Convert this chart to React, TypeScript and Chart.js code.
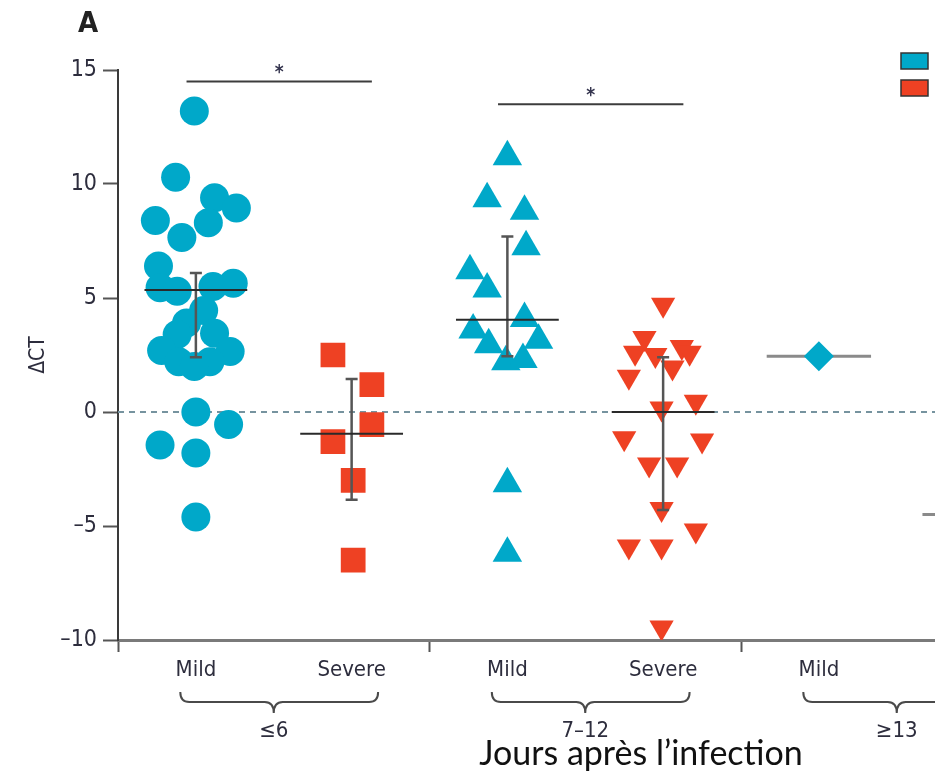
import React, { useEffect, useRef } from 'react';
import { Chart, registerables } from 'chart.js';

Chart.register(...registerables);

// ---------- data ----------
const CATEGORY_LABELS = ['Mild', 'Severe', 'Mild', 'Severe', 'Mild', 'Severe'];
const GROUP_LABELS = ['≤6', '7–12', '≥13'];
const LEGEND_LABELS = ['Mild', 'Severe'];
const Y_TICKS = [-10, -5, 0, 5, 10, 15];
const X_TITLE = 'Jours après l’infection';
const Y_TITLE = 'ΔCT';
const PANEL = 'A';

// [horizontal jitter within the category, ΔCT]
const MILD_LE6: [number, number][] = [
  [-0.01, 13.2], [-0.13, 10.3], [0.12, 9.4], [0.26, 8.95], [-0.26, 8.4], [0.08, 8.3],
  [-0.09, 7.65], [-0.24, 6.4], [-0.23, 5.45], [-0.12, 5.3], [0.11, 5.5], [0.24, 5.65],
  [0.05, 4.45], [-0.06, 3.9], [-0.12, 3.4], [0.12, 3.45], [-0.22, 2.7], [0.22, 2.65],
  [-0.11, 2.2], [0.09, 2.2], [-0.01, 2.0], [0, 0], [0.21, -0.55], [-0.23, -1.45],
  [0, -1.8], [0, -4.6],
];
const SEVERE_LE6: [number, number][] = [
  [-0.12, 2.5], [0.13, 1.2], [0.13, -0.55], [-0.12, -1.3], [0.01, -3.0], [0.01, -6.5],
];
const MILD_7_12: [number, number][] = [
  [0, 11.2], [-0.13, 9.35], [0.11, 8.8], [0.12, 7.25], [-0.24, 6.2], [-0.13, 5.4],
  [0.11, 4.1], [-0.22, 3.6], [-0.12, 2.95], [0.2, 3.15], [-0.01, 2.2], [0.1, 2.3],
  [0, -3.15], [0, -6.2],
];
const SEVERE_7_12: [number, number][] = [
  [0, 4.7], [-0.12, 3.25], [0.12, 2.85], [-0.18, 2.6], [-0.05, 2.5], [0.17, 2.6],
  [0.06, 1.95], [-0.22, 1.55], [0.21, 0.45], [-0.01, 0.15], [-0.25, -1.15], [0.25, -1.25],
  [-0.09, -2.3], [0.09, -2.3], [-0.01, -4.25], [0.21, -5.2], [-0.22, -5.9], [-0.01, -5.9],
  [-0.01, -9.45],
];
const MILD_GE13: [number, number][] = [[0, 2.45]];

const MEDIANS = [5.35, -0.95, 4.05, 0.0, 2.45, -4.5];
const Q1 = [2.4, -3.85, 2.45, -4.3, NaN, NaN];
const Q3 = [6.1, 1.45, 7.7, 2.4, NaN, NaN];
// [category a, category b, ΔCT level of the bar]
const SIGNIFICANCE: [number, number, number][] = [[0, 1, 14.5], [2, 3, 13.5]];

// ---------- style ----------
const BLUE = '#00a8c9';
const RED = '#ee4123';
const INK = '#2d2d3d';
const NARROW = "'Liberation Sans Narrow', 'DejaVu Sans Condensed', 'Liberation Sans', sans-serif";

const toPoints = (arr: [number, number][], cat: number) =>
  arr.map(([j, v]) => ({ x: cat + j, y: v }));

const overlay = {
  id: 'overlay',
  beforeDatasetsDraw(chart: any) {
    const { ctx } = chart;
    const x = chart.scales.x;
    const y = chart.scales.y;
    const unit = x.getPixelForValue(1) - x.getPixelForValue(0);
    ctx.save();
    MEDIANS.forEach((m, i) => {
      if (Number.isFinite(Q1[i])) return;
      const cx = x.getPixelForValue(i);
      const my = y.getPixelForValue(m);
      ctx.strokeStyle = '#8a8a8a';
      ctx.lineWidth = 3;
      ctx.beginPath();
      ctx.moveTo(cx - 0.335 * unit, my);
      ctx.lineTo(cx + 0.335 * unit, my);
      ctx.stroke();
    });
    ctx.restore();
  },
  afterDatasetsDraw(chart: any) {
    const { ctx } = chart;
    const x = chart.scales.x;
    const y = chart.scales.y;
    const unit = x.getPixelForValue(1) - x.getPixelForValue(0);
    ctx.save();
    MEDIANS.forEach((m, i) => {
      if (!Number.isFinite(Q1[i])) return;
      const cx = x.getPixelForValue(i);
      const y1 = y.getPixelForValue(Q1[i]);
      const y3 = y.getPixelForValue(Q3[i]);
      ctx.strokeStyle = '#555';
      ctx.lineWidth = 2.5;
      ctx.beginPath();
      ctx.moveTo(cx, y1);
      ctx.lineTo(cx, y3);
      ctx.moveTo(cx - 6, y1);
      ctx.lineTo(cx + 6, y1);
      ctx.moveTo(cx - 6, y3);
      ctx.lineTo(cx + 6, y3);
      ctx.stroke();
      const my = y.getPixelForValue(m);
      ctx.strokeStyle = '#2a2a2a';
      ctx.lineWidth = 2;
      ctx.beginPath();
      ctx.moveTo(cx - 0.33 * unit, my);
      ctx.lineTo(cx + 0.33 * unit, my);
      ctx.stroke();
    });
    ctx.restore();
  },
  afterDraw(chart: any) {
    const { ctx, chartArea } = chart;
    const x = chart.scales.x;
    const y = chart.scales.y;
    ctx.save();
    // panel letter
    ctx.fillStyle = '#222';
    ctx.font = `bold 29px ${NARROW}`;
    ctx.textAlign = 'left';
    ctx.textBaseline = 'alphabetic';
    ctx.fillText(PANEL, 78, 32);

    // significance bars
    SIGNIFICANCE.forEach(([a, b, lvl]) => {
      const x1 = x.getPixelForValue(a - 0.06);
      const x2 = x.getPixelForValue(b + 0.13);
      const py = y.getPixelForValue(lvl);
      ctx.strokeStyle = '#3c3c3c';
      ctx.lineWidth = 2;
      ctx.beginPath();
      ctx.moveTo(x1, py);
      ctx.lineTo(x2, py);
      ctx.stroke();
      ctx.fillStyle = '#34344e';
      ctx.font = `bold 19px ${NARROW}`;
      ctx.textAlign = 'center';
      ctx.textBaseline = 'alphabetic';
      ctx.fillText('*', (x1 + x2) / 2, py - 3);
    });

    // braces and group labels
    const top = chartArea.bottom + 52;
    const h = 21;
    GROUP_LABELS.forEach((g, gi) => {
      const a = gi * 2;
      const x1 = x.getPixelForValue(a - 0.1);
      const x2 = x.getPixelForValue(a + 1.17);
      const xm = x.getPixelForValue(a + 0.5);
      const mid = top + 10;
      const r = 9;
      ctx.strokeStyle = '#4a4a4a';
      ctx.lineWidth = 2;
      ctx.beginPath();
      ctx.moveTo(x1, top);
      ctx.quadraticCurveTo(x1, mid, x1 + r, mid);
      ctx.lineTo(xm - r, mid);
      ctx.quadraticCurveTo(xm, mid, xm, top + h);
      ctx.quadraticCurveTo(xm, mid, xm + r, mid);
      ctx.lineTo(x2 - r, mid);
      ctx.quadraticCurveTo(x2, mid, x2, top);
      ctx.stroke();
      ctx.fillStyle = INK;
      ctx.font = `22px ${NARROW}`;
      ctx.textAlign = 'center';
      ctx.textBaseline = 'middle';
      ctx.fillText(g, xm, chartArea.bottom + 91);
    });

    // axis title (bottom)
    ctx.fillStyle = '#111';
    ctx.font = `34px Lato, 'Liberation Sans', sans-serif`;
    ctx.textAlign = 'center';
    ctx.textBaseline = 'alphabetic';
    ctx.fillText(X_TITLE, 641, 765);

    // legend
    [BLUE, RED].forEach((c, i) => {
      const ly = 53 + i * 27;
      ctx.fillStyle = c;
      ctx.fillRect(901, ly, 27, 16);
      ctx.strokeStyle = '#333';
      ctx.lineWidth = 1.5;
      ctx.strokeRect(901, ly, 27, 16);
      ctx.fillStyle = INK;
      ctx.font = `22px ${NARROW}`;
      ctx.textAlign = 'left';
      ctx.textBaseline = 'middle';
      ctx.fillText(LEGEND_LABELS[i], 940, ly + 8);
    });
    ctx.restore();
  },
};

export default function App() {
  const ref = useRef<HTMLCanvasElement | null>(null);

  useEffect(() => {
    if (!ref.current) return;
    const scatter = (data: [number, number][], cat: number, color: string, style: string, radius: number, rotation = 0) => ({
      type: 'scatter' as const,
      data: toPoints(data, cat),
      backgroundColor: color,
      borderColor: color,
      borderWidth: 0,
      pointStyle: style,
      pointRadius: radius,
      pointHoverRadius: radius,
      pointRotation: rotation,
      order: 5,
    });
    const chart = new Chart(ref.current, {
      type: 'scatter',
      data: {
        datasets: [
          {
            type: 'line',
            data: [{ x: -0.5, y: 0 }, { x: CATEGORY_LABELS.length - 0.5, y: 0 }],
            borderColor: '#76939f',
            borderWidth: 2,
            borderDash: [6, 5],
            pointRadius: 0,
            order: 10,
          } as any,
          scatter(MILD_LE6, 0, BLUE, 'circle', 14.5),
          scatter(SEVERE_LE6, 1, RED, 'rect', 17.5),
          scatter(MILD_7_12, 2, BLUE, 'triangle', 17),
          scatter(SEVERE_7_12, 3, RED, 'triangle', 14, 180),
          scatter(MILD_GE13, 4, BLUE, 'rectRot', 15),
        ] as any,
      },
      options: {
        animation: false,
        responsive: false,
        events: [],
        layout: { padding: { top: 70, right: 10, left: 0, bottom: 0 } },
        plugins: { legend: { display: false }, tooltip: { enabled: false } },
        scales: {
          x: {
            type: 'linear',
            min: -0.5,
            max: CATEGORY_LABELS.length - 0.5,
            afterFit: (s: any) => { s.height = 133; },
            afterBuildTicks: (s: any) => {
              const t: { value: number }[] = [];
              CATEGORY_LABELS.forEach((_, i) => {
                if (i % 2 === 0) t.push({ value: i - 0.5 });
                t.push({ value: i });
              });
              t.push({ value: CATEGORY_LABELS.length - 0.5 });
              s.ticks = t;
            },
            ticks: {
              autoSkip: false,
              maxRotation: 0,
              minRotation: 0,
              padding: 5,
              color: INK,
              font: { family: NARROW, size: 22 },
              callback: (v: any) => (Number.isInteger(v) ? CATEGORY_LABELS[v] : ''),
            },
            grid: {
              display: true,
              drawOnChartArea: false,
              drawTicks: true,
              tickLength: 12,
              tickWidth: 2,
              tickColor: (c: any) => (Number.isInteger(c.tick?.value) ? 'rgba(0,0,0,0)' : '#555'),
            },
            border: { display: true, color: '#7a7a7a', width: 3 },
          },
          y: {
            type: 'linear',
            min: -10,
            max: 15,
            afterFit: (s: any) => { s.width = 118; },
            afterBuildTicks: (s: any) => { s.ticks = Y_TICKS.map((v) => ({ value: v })); },
            ticks: {
              padding: 6,
              color: INK,
              font: { family: NARROW, size: 23 },
              callback: (v: any) => (v < 0 ? '–' + Math.abs(v) : String(v)),
            },
            grid: {
              display: true,
              drawOnChartArea: false,
              drawTicks: true,
              tickLength: 15,
              tickWidth: 2,
              tickColor: '#555',
            },
            border: { display: true, color: '#3a3a3a', width: 2 },
            title: {
              display: true,
              text: Y_TITLE,
              color: INK,
              font: { family: NARROW, size: 21 },
              padding: { top: 26, bottom: 0 },
            },
          },
        },
      } as any,
      plugins: [overlay],
    });
    return () => chart.destroy();
  }, []);

  return (
    <div style={{ position: 'fixed', left: 0, top: 0, width: 935, height: 773, overflow: 'hidden', background: '#fff' }}>
      <canvas ref={ref} width={1070} height={773} style={{ display: 'block', width: 1070, height: 773 }} />
    </div>
  );
}
